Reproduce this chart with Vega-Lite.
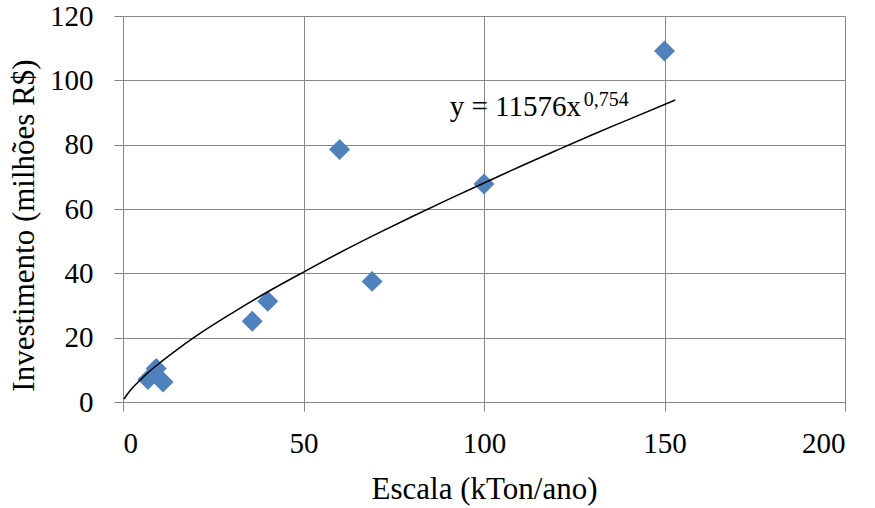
{
  "$schema": "https://vega.github.io/schema/vega-lite/v6.json",
  "width": 722,
  "height": 386,
  "autosize": {"type": "none"},
  "padding": {"left": 123, "top": 16, "right": 30, "bottom": 106},
  "background": "white",
  "config": {
    "view": {"stroke": null},
    "font": "Liberation Serif",
    "axis": {
      "grid": true,
      "gridColor": "#878787",
      "gridWidth": 1,
      "domainColor": "#878787",
      "domainWidth": 1,
      "tickColor": "#878787",
      "tickSize": 9,
      "tickWidth": 1,
      "labelFont": "Liberation Serif",
      "labelFontSize": 29,
      "labelColor": "#000000",
      "titleFont": "Liberation Serif",
      "titleFontSize": 31,
      "titleFontWeight": "normal",
      "titleColor": "#000000"
    }
  },
  "datasets": {
    "points": [
      {"escala": 6.9, "investimento": 7.0},
      {"escala": 9.2, "investimento": 10.4},
      {"escala": 11.1, "investimento": 6.2},
      {"escala": 35.8, "investimento": 25.1},
      {"escala": 40.1, "investimento": 31.3},
      {"escala": 60, "investimento": 78.5},
      {"escala": 69, "investimento": 37.5},
      {"escala": 100, "investimento": 67.8},
      {"escala": 150, "investimento": 109.1}
    ],
    "trend": [
      {"escala": 0.3, "investimento": 0.9},
      {"escala": 1, "investimento": 2.1},
      {"escala": 2, "investimento": 3.6},
      {"escala": 4, "investimento": 6.0},
      {"escala": 7, "investimento": 9.2},
      {"escala": 10, "investimento": 12.0},
      {"escala": 15, "investimento": 16.3},
      {"escala": 20, "investimento": 20.3},
      {"escala": 30, "investimento": 27.5},
      {"escala": 40, "investimento": 34.2},
      {"escala": 50, "investimento": 40.4},
      {"escala": 60, "investimento": 46.4},
      {"escala": 70, "investimento": 52.1},
      {"escala": 80, "investimento": 57.6},
      {"escala": 90, "investimento": 62.9},
      {"escala": 100, "investimento": 68.1},
      {"escala": 110, "investimento": 73.2},
      {"escala": 120, "investimento": 78.2},
      {"escala": 130, "investimento": 83.1},
      {"escala": 140, "investimento": 87.8},
      {"escala": 153, "investimento": 93.9}
    ],
    "annotation": [
      {"part": "main", "escala": 90.5, "investimento": 88.8, "label": "y = 11576x"},
      {"part": "exp", "escala": 127.6, "investimento": 92.0, "label": "0,754"}
    ]
  },
  "encoding": {
    "x": {
      "field": "escala",
      "type": "quantitative",
      "scale": {"domain": [0, 200], "nice": false, "zero": true},
      "axis": {
        "values": [0, 50, 100, 150, 200],
        "labelPadding": 18,
        "title": "Escala (kTon/ano)",
        "titleBaseline": "alphabetic",
        "titleY": 96
      }
    },
    "y": {
      "field": "investimento",
      "type": "quantitative",
      "scale": {"domain": [0, 120], "nice": false, "zero": true},
      "axis": {
        "values": [0, 20, 40, 60, 80, 100, 120],
        "labelPadding": 21,
        "title": "Investimento (milhões R$)",
        "titleBaseline": "alphabetic",
        "titleAngle": -90,
        "titleX": -90,
        "titleY": 209
      }
    }
  },
  "layer": [
    {
      "data": {"name": "points"},
      "mark": {"type": "point", "shape": "diamond", "filled": true, "size": 440, "color": "#4F81BD", "opacity": 1, "strokeWidth": 0}
    },
    {
      "data": {"name": "trend"},
      "mark": {"type": "line", "color": "#000000", "strokeWidth": 1.5, "interpolate": "monotone"}
    },
    {
      "data": {"name": "annotation"},
      "transform": [{"filter": "datum.part === 'main'"}],
      "mark": {"type": "text", "align": "left", "baseline": "alphabetic", "fontSize": 29, "color": "#000000", "font": "Liberation Serif"},
      "encoding": {"text": {"field": "label"}}
    },
    {
      "data": {"name": "annotation"},
      "transform": [{"filter": "datum.part === 'exp'"}],
      "mark": {"type": "text", "align": "left", "baseline": "alphabetic", "fontSize": 20, "color": "#000000", "font": "Liberation Serif"},
      "encoding": {"text": {"field": "label"}}
    }
  ]
}
